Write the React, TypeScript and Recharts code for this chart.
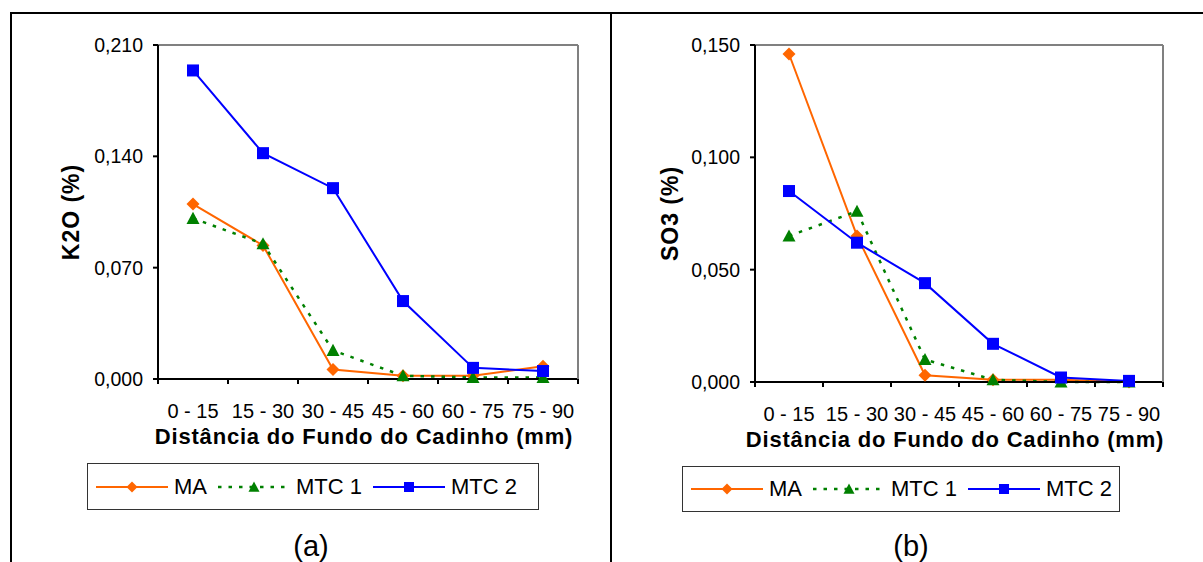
import { LineChart, Line, XAxis, YAxis, Legend } from "recharts"

const FONT = '"Liberation Sans", Arial, sans-serif'

const CATEGORIES = ["0 - 15", "15 - 30", "30 - 45", "45 - 60", "60 - 75", "75 - 90"]

// (a) K2O (%)
const K2O_MA = [0.110, 0.084, 0.006, 0.002, 0.002, 0.008]
const K2O_MTC1 = [0.101, 0.085, 0.018, 0.002, 0.001, 0.001]
const K2O_MTC2 = [0.194, 0.142, 0.120, 0.049, 0.007, 0.005]
const K2O_TICKS = [0, 0.07, 0.14, 0.21]

// (b) SO3 (%)
const SO3_MA = [0.146, 0.065, 0.003, 0.001, 0.001, 0.0]
const SO3_MTC1 = [0.065, 0.076, 0.010, 0.001, 0.0, 0.0]
const SO3_MTC2 = [0.085, 0.062, 0.044, 0.017, 0.002, 0.0005]
const SO3_TICKS = [0, 0.05, 0.1, 0.15]

const X_TITLE = "Distância do Fundo do Cadinho (mm)"

const SERIES = [
  { key: "ma", label: "MA", color: "#FF6600", shape: "diamond", dash: undefined as string | undefined },
  { key: "mtc1", label: "MTC 1", color: "#008000", shape: "triangle", dash: "3.5 7" },
  { key: "mtc2", label: "MTC 2", color: "#0000FF", shape: "square", dash: undefined as string | undefined },
]

function buildRows(ma: number[], mtc1: number[], mtc2: number[]) {
  return CATEGORIES.map((cat, i) => ({ cat, ma: ma[i], mtc1: mtc1[i], mtc2: mtc2[i] }))
}

const fmt = (v: number) => v.toFixed(3).replace(".", ",")

function Marker({ shape, cx, cy, color, r = 6 }: any) {
  if (cx == null || cy == null) return null
  if (shape === "diamond") {
    return <polygon points={`${cx},${cy - r} ${cx + r},${cy} ${cx},${cy + r} ${cx - r},${cy}`} fill={color} />
  }
  if (shape === "square") {
    const h = r - 0.5
    return <rect x={cx - h} y={cy - h} width={2 * h} height={2 * h} fill={color} />
  }
  return <polygon points={`${cx},${cy - r} ${cx + r},${cy + r * 0.85} ${cx - r},${cy + r * 0.85}`} fill={color} />
}

// category labels sit in the middle of each band, tick marks on the band edges (Excel style)
function CatTick(props: any) {
  const { x, y, payload, index, band } = props
  const half = band / 2
  return (
    <g>
      <line x1={x - half} y1={y} x2={x - half} y2={y + 5} stroke="#000" strokeWidth={2} />
      {index === CATEGORIES.length - 1 && (
        <line x1={x + half} y1={y} x2={x + half} y2={y + 5} stroke="#000" strokeWidth={2} />
      )}
      <text x={x} y={y + 39} textAnchor="middle" fontFamily={FONT} fontSize={20} fill="#000">
        {payload.value}
      </text>
    </g>
  )
}

function LegendBox() {
  return (
    <div
      style={{
        boxSizing: "border-box",
        width: "100%",
        height: "100%",
        border: "1.5px solid #333",
        display: "flex",
        alignItems: "center",
        paddingLeft: 8,
        fontFamily: FONT,
        fontSize: 22,
        color: "#000",
        background: "#fff",
        whiteSpace: "nowrap",
      }}
    >
      {SERIES.map((s) => (
        <div key={s.key} style={{ display: "flex", alignItems: "center", marginRight: 11, flexShrink: 0 }}>
          <svg width={72} height={16} style={{ display: "block" }}>
            <line x1={0} y1={8} x2={72} y2={8} stroke={s.color} strokeWidth={s.dash ? 2.5 : 2} strokeDasharray={s.dash} />
            <Marker shape={s.shape} cx={36} cy={8} color={s.color} r={5.5} />
          </svg>
          <span style={{ marginLeft: 6, lineHeight: 1 }}>{s.label}</span>
        </div>
      ))}
    </div>
  )
}

function Panel({ left, width, rows, yMax, yTicks, yTitle, margin, yTitleDx, legend, caption, captionX }: any) {
  const plotW = width - margin.left - 60 - margin.right - 1
  const band = plotW / CATEGORIES.length
  return (
    <div style={{ position: "absolute", left, top: 0, width, height: 562 }}>
      <LineChart width={width} height={562} data={rows} margin={margin}>
        <XAxis
          xAxisId="x"
          dataKey="cat"
          interval={0}
          height={80}
          padding={{ left: band / 2, right: band / 2 }}
          tickSize={0}
          tickMargin={0}
          tickLine={false}
          axisLine={{ stroke: "#000", strokeWidth: 2 }}
          tick={<CatTick band={band} />}
          label={(p: any) => {
            const vb = p.viewBox || { x: margin.left + 60, y: 562 - margin.bottom - 80, width: plotW }
            return (
              <text
                x={vb.x + vb.width / 2 - 4}
                y={vb.y + 65}
                textAnchor="middle"
                fontFamily={FONT}
                fontSize={22}
                fontWeight="bold"
                letterSpacing={0.8}
                fill="#000"
              >
                {X_TITLE}
              </text>
            )
          }}
        />
        {/* gray frame on top and right of the plot area */}
        <XAxis
          xAxisId="top"
          orientation="top"
          dataKey="cat"
          height={1}
          tick={false}
          tickLine={false}
          axisLine={{ stroke: "#808080", strokeWidth: 2 }}
        />
        <YAxis
          yAxisId="y"
          width={60}
          domain={[0, yMax]}
          ticks={yTicks}
          tickFormatter={fmt}
          tickSize={5}
          tickMargin={10}
          interval={0}
          axisLine={{ stroke: "#000", strokeWidth: 2 }}
          tickLine={{ stroke: "#000", strokeWidth: 2 }}
          tick={{ fontFamily: FONT, fontSize: 19.5, fill: "#000" }}
          label={(p: any) => {
            const vb = p.viewBox || { x: margin.left, y: margin.top + 1, width: 60, height: 562 - margin.top - 1 - margin.bottom - 80 }
            const cx = vb.x + vb.width - yTitleDx
            const cy = vb.y + vb.height / 2
            return (
              <text
                x={cx}
                y={cy}
                transform={`rotate(-90, ${cx}, ${cy})`}
                textAnchor="middle"
                dominantBaseline="central"
                fontFamily={FONT}
                fontSize={23}
                fontWeight="bold"
                letterSpacing={1}
                fill="#000"
              >
                {yTitle}
              </text>
            )
          }}
        />
        <YAxis
          yAxisId="right"
          orientation="right"
          width={1}
          domain={[0, yMax]}
          tick={false}
          tickLine={false}
          axisLine={{ stroke: "#808080", strokeWidth: 2 }}
        />
        <Legend
          layout="horizontal"
          verticalAlign="middle"
          align="center"
          content={<LegendBox />}
          wrapperStyle={{ left: legend.left, top: legend.top, width: legend.width, height: legend.height }}
        />
        {SERIES.map((s) => (
          <Line
            key={s.key}
            xAxisId="x"
            yAxisId="y"
            type="linear"
            dataKey={s.key}
            name={s.label}
            stroke={s.color}
            strokeWidth={s.dash ? 2.5 : 2}
            strokeDasharray={s.dash}
            isAnimationActive={false}
            dot={(p: any) => <Marker key={`${s.key}-${p.index}`} shape={s.shape} cx={p.cx} cy={p.cy} color={s.color} r={6.5} />}
            activeDot={false}
          />
        ))}
      </LineChart>
      <div
        style={{
          position: "absolute",
          left: captionX - 50,
          top: 532,
          width: 100,
          textAlign: "center",
          fontFamily: FONT,
          fontSize: 29,
          lineHeight: "29px",
          color: "#000",
        }}
      >
        {caption}
      </div>
    </div>
  )
}

export default function App() {
  return (
    <div style={{ position: "absolute", left: 0, top: 0, width: 1203, height: 562, overflow: "hidden", background: "#fff" }}>
      <div style={{ position: "absolute", left: 10, top: 12, width: 1193, height: 2, background: "#000" }} />
      <div style={{ position: "absolute", left: 10, top: 12, width: 2, height: 550, background: "#000" }} />
      <div style={{ position: "absolute", left: 610, top: 12, width: 2, height: 550, background: "#000" }} />
      <Panel
        left={0}
        width={610}
        rows={buildRows(K2O_MA, K2O_MTC1, K2O_MTC2)}
        yMax={0.21}
        yTicks={K2O_TICKS}
        yTitle="K2O (%)"
        margin={{ top: 44, right: 31, bottom: 103, left: 98 }}
        yTitleDx={87}
        legend={{ left: 87, top: 463, width: 452, height: 47 }}
        caption="(a)"
        captionX={311}
      />
      <Panel
        left={610}
        width={593}
        rows={buildRows(SO3_MA, SO3_MTC1, SO3_MTC2)}
        yMax={0.15}
        yTicks={SO3_TICKS}
        yTitle="SO3 (%)"
        margin={{ top: 44, right: 39, bottom: 100, left: 85 }}
        yTitleDx={85}
        legend={{ left: 72, top: 466, width: 438, height: 46 }}
        caption="(b)"
        captionX={301}
      />
    </div>
  )
}
